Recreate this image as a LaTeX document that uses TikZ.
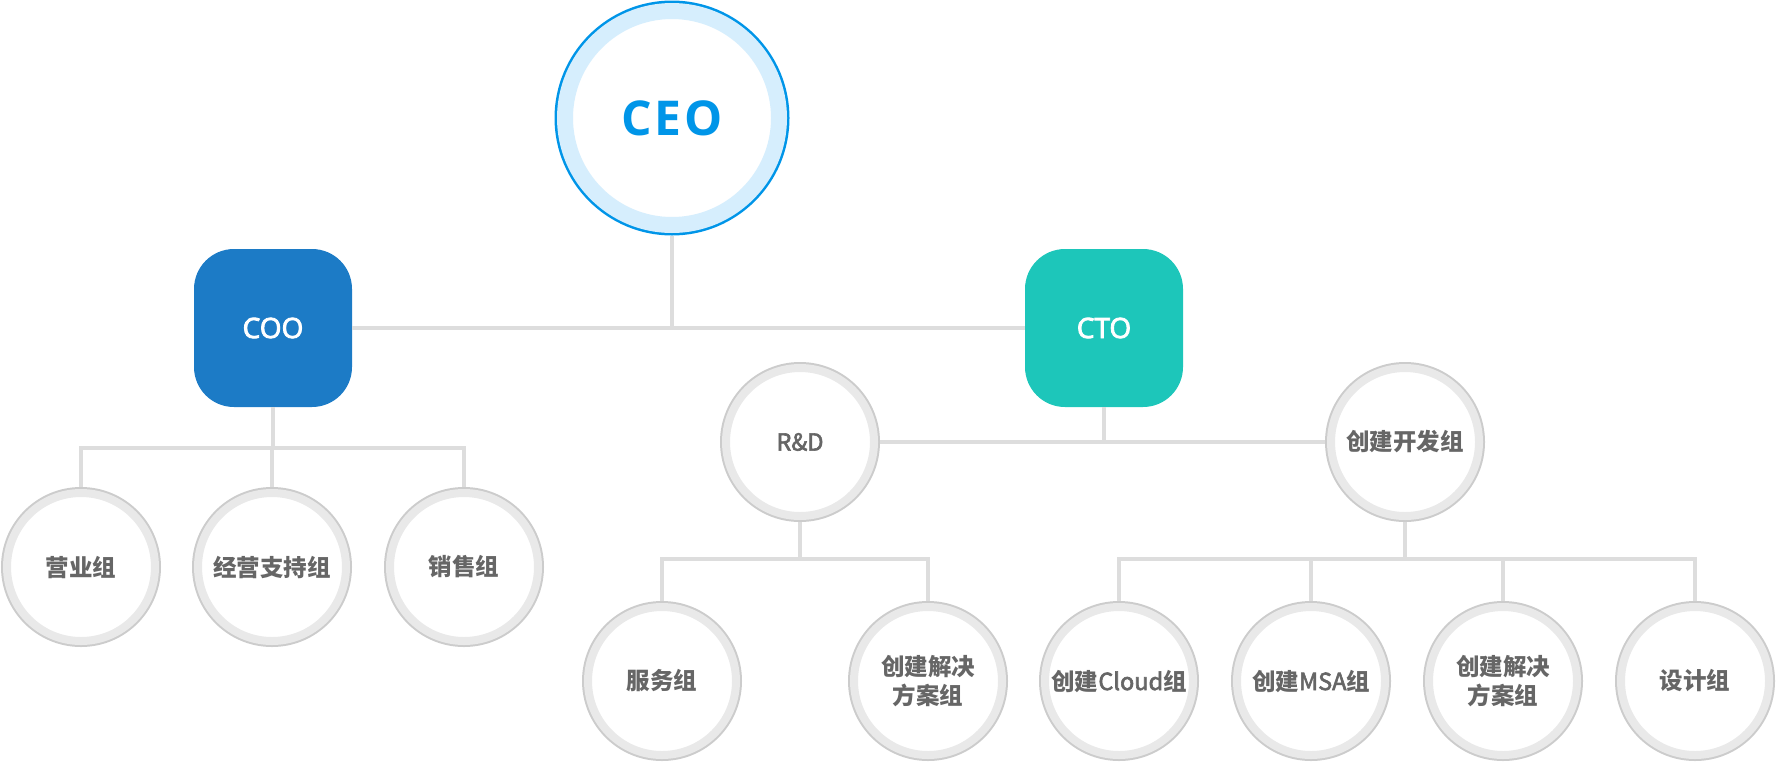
\documentclass[tikz,border=0pt]{standalone}
\usepackage{fontspec}
\setmainfont{Open Sans}
\newfontfamily\chieffont[FakeBold=3]{Open Sans}
\newfontfamily\cjk{Noto Sans CJK SC}
\newfontfamily\cjklatin[FakeBold=2.5]{Noto Sans CJK SC}
\definecolor{ceoblue}{HTML}{0095E8}
\definecolor{ceoring}{HTML}{D6EEFD}
\definecolor{cooblue}{HTML}{1C7BC6}
\definecolor{ctogreen}{HTML}{1DC6BA}
\definecolor{linkgray}{HTML}{DDDDDD}
\definecolor{rimgray}{HTML}{CCCCCC}
\definecolor{ringgray}{HTML}{E9E9E9}
\definecolor{labelgray}{HTML}{666666}
\newcommand{\latinpart}[1]{{\cjklatin\mdseries #1}}
\tikzset{
	ceonode/.style={circle, minimum size=214pt, inner sep=0pt, outer sep=10.5pt,
		fill=white, draw=ceoring, line width=16pt,
		preaction={draw=ceoblue, line width=21pt},
		text=ceoblue, font=\fontsize{48}{48}\selectfont\bfseries},
	chief/.style={rectangle, rounded corners=40pt, minimum size=158pt, inner sep=0pt,
		outer sep=0pt, fill=#1, text=white, font=\chieffont\fontsize{28}{28}\selectfont},
	team/.style={circle, minimum size=148pt, inner sep=0pt, outer sep=6pt,
		fill=white, draw=ringgray, line width=8pt,
		preaction={draw=rimgray, line width=12pt},
		text=labelgray, align=center, font=\cjk\bfseries\fontsize{23.5}{29}\selectfont},
	link/.style={draw=linkgray, line width=4pt}
}
\begin{document}
\begin{tikzpicture}[x=1pt, y=-1pt]
	\useasboundingbox (0,0) rectangle (1777,764);
	\node[ceonode] (ceo) at (672,118) {C\hspace{3pt}E\hspace{3pt}O};
	\node[chief=cooblue] (coo) at (273,328) {COO};
	\node[chief=ctogreen] (cto) at (1104,328) {CTO};
	\node[team] (ying) at (81,567) {营业组};
	\node[team] (jingying) at (272,567) {经营支持组};
	\node[team] (xiaoshou) at (464,567) {销售组};
	\node[team] (rd) at (800,442) {\latinpart{R\&D}};
	\node[team] (kaifa) at (1405,442) {创建开发组};
	\node[team] (fuwu) at (662,681) {服务组};
	\node[team] (jiejuea) at (928,681) {创建解决\\方案组};
	\node[team] (cloud) at (1119,681) {创建\latinpart{Cloud}组};
	\node[team] (msa) at (1311,681) {创建\latinpart{MSA}组};
	\node[team] (jiejueb) at (1503,681) {创建解决\\方案组};
	\node[team] (sheji) at (1695,681) {设计组};
	\coordinate (coojoin) at (273,448);
	\coordinate (rdjoin) at (800,559);
	\coordinate (kaifajoin) at (1405,559);
	\draw[link] (coo) -- (cto);
	\draw[link] (ceo) -- (ceo |- coo);
	\draw[link] (coo) -- (coojoin);
	\draw[link] (ying.north) |- (coojoin) -| (xiaoshou.north);
	\draw[link] (jingying.north) -- (jingying |- coojoin);
	\draw[link] (rd) -- (kaifa);
	\draw[link] (cto) -- (cto |- rd);
	\draw[link] (rd) -- (rdjoin);
	\draw[link] (fuwu.north) |- (rdjoin) -| (jiejuea.north);
	\draw[link] (kaifa) -- (kaifajoin);
	\draw[link] (cloud.north) |- (kaifajoin) -| (sheji.north);
	\draw[link] (msa.north) -- (msa |- kaifajoin);
	\draw[link] (jiejueb.north) -- (jiejueb |- kaifajoin);
\end{tikzpicture}
\end{document}
